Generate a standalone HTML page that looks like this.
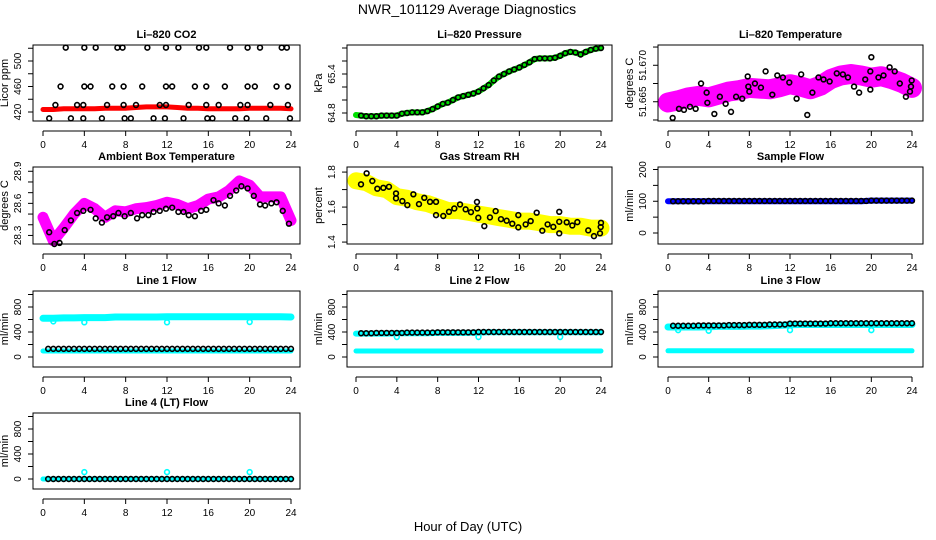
<!DOCTYPE html>
<html><head><meta charset="utf-8"><style>
body{margin:0;background:#fff}
svg{display:block;font-family:"Liberation Sans",Arial,sans-serif}
</style></head><body>
<svg id="c" width="936" height="540" viewBox="0 0 936 540">
<text x="467" y="14" font-size="14" text-anchor="middle">NWR_101129  Average Diagnostics</text>
<text x="468" y="531" font-size="13" text-anchor="middle">Hour of Day (UTC)</text>
</svg>
<script>
const hours=[0,1,2,3,4,5,6,7,8,9,10,11,12,13,14,15,16,17,18,19,20,21,22,23,24];
const xTicks=[0,4,8,12,16,20,24];
// CO2
const co2Band=[424,424,425,425,425,425,426,426,426,427,428,428,428,427,426,426,425,425,425,425,426,426,426,426,425];
const co2PtHours=[2.2,4.0,5.1,7.2,7.7,10.1,11.9,13.1,15.1,15.8,18.1,19.8,21.0,23.1,23.6,1.7,4.0,4.6,6.7,7.8,9.6,11.9,12.5,14.7,15.8,17.6,19.8,20.5,22.6,23.7,1.2,3.3,3.9,6.2,7.8,9.0,11.3,11.9,14.1,15.8,17.0,19.1,19.8,22.0,23.7,0.6,2.7,3.9,5.7,7.9,8.5,10.7,11.8,13.6,15.9,16.4,18.6,19.7,21.6,23.9];
const co2PtVals=[521,521,521,521,521,521,521,521,521,521,521,521,521,521,521,460,460,460,460,460,460,460,460,460,460,460,460,460,460,460,431,431,431,431,431,431,431,431,431,431,431,431,431,431,431,410,410,410,410,410,410,410,410,410,410,410,410,410,410,410];
// Pressure (half-hourly)
const presHours=[0,0.5,1,1.5,2,2.5,3,3.5,4,4.5,5,5.5,6,6.5,7,7.5,8,8.5,9,9.5,10,10.5,11,11.5,12,12.5,13,13.5,14,14.5,15,15.5,16,16.5,17,17.5,18,18.5,19,19.5,20,20.5,21,21.5,22,22.5,23,23.5,24];
const presVals=[64.77,64.76,64.75,64.75,64.75,64.76,64.76,64.76,64.76,64.79,64.80,64.81,64.81,64.81,64.83,64.86,64.90,64.94,64.96,65.00,65.04,65.06,65.08,65.10,65.13,65.18,65.23,65.30,65.36,65.40,65.44,65.47,65.50,65.54,65.58,65.63,65.64,65.64,65.64,65.65,65.68,65.72,65.74,65.73,65.70,65.74,65.77,65.79,65.80];
// Li-820 temperature
const tempBand=[51.6649,51.6652,51.6656,51.6658,51.6656,51.6660,51.6664,51.6666,51.6669,51.6668,51.6667,51.6670,51.6674,51.6671,51.6667,51.6672,51.6681,51.6686,51.6688,51.6686,51.6683,51.6685,51.6681,51.6676,51.6669];
const tempPtHours=[0.46,1.08,1.57,2.16,2.72,3.25,3.8,3.87,4.56,5.1,5.67,6.2,6.7,7.3,7.84,7.9,8.0,8.55,9.14,9.6,10.26,10.75,11.3,11.93,12.65,13.1,13.7,14.2,14.8,15.3,15.9,16.6,17.2,17.7,18.3,18.8,19.4,19.9,19.9,20.0,20.7,21.2,21.8,22.3,22.8,23.4,23.8,23.9,23.97];
const tempPtVals=[51.66278,51.66403,51.66389,51.66431,51.66403,51.66750,51.66625,51.66486,51.66333,51.66569,51.66472,51.66361,51.66569,51.66542,51.66847,51.66708,51.66639,51.66750,51.66694,51.66917,51.66597,51.66861,51.66833,51.66764,51.66542,51.66875,51.66319,51.66625,51.66833,51.66806,51.66778,51.66889,51.66875,51.66833,51.66708,51.66625,51.66806,51.66917,51.66667,51.67111,51.66833,51.66861,51.66972,51.66917,51.66750,51.66569,51.66639,51.66708,51.66792];
// Ambient box temperature
const ambBand=[28.47,28.25,28.37,28.50,28.60,28.55,28.47,28.53,28.52,28.55,28.56,28.58,28.61,28.59,28.55,28.58,28.64,28.66,28.72,28.81,28.77,28.66,28.66,28.66,28.44];
const ambPtHours=[0.6,1.1,1.6,2.1,2.7,3.3,3.9,4.6,5.1,5.7,6.2,6.8,7.3,7.9,8.5,9.1,9.6,10.2,10.7,11.3,11.9,12.5,13.1,13.6,14.1,14.7,15.3,15.8,16.5,17.0,17.6,18.1,18.7,19.2,19.8,20.4,21.0,21.5,22.1,22.6,23.2,23.8];
const ambPtVals=[28.33,28.22,28.23,28.35,28.44,28.51,28.53,28.54,28.46,28.42,28.47,28.48,28.51,28.48,28.51,28.46,28.49,28.49,28.52,28.53,28.55,28.56,28.52,28.52,28.49,28.48,28.53,28.54,28.63,28.60,28.58,28.67,28.72,28.76,28.74,28.67,28.59,28.58,28.60,28.61,28.53,28.41];
// Gas stream RH
const rhBand=[1.75,1.74,1.71,1.70,1.66,1.65,1.63,1.62,1.60,1.58,1.58,1.57,1.56,1.55,1.54,1.53,1.52,1.52,1.51,1.50,1.50,1.49,1.49,1.48,1.48];
const rhPtHours=[0.49,1.04,1.60,2.09,2.68,3.23,3.92,3.92,4.54,5.03,5.62,6.17,6.69,7.25,7.84,7.84,8.55,9.11,9.63,10.19,10.74,11.26,11.85,11.88,11.98,12.57,13.12,13.68,14.20,14.76,15.31,15.90,15.90,16.62,17.11,17.70,18.25,18.77,19.33,19.91,19.91,19.91,20.64,21.19,21.68,22.75,23.31,23.90,23.97,24.0];
const rhPtVals=[1.730,1.793,1.749,1.705,1.710,1.716,1.678,1.650,1.634,1.611,1.673,1.617,1.653,1.630,1.630,1.554,1.549,1.573,1.592,1.615,1.587,1.571,1.629,1.592,1.539,1.491,1.541,1.577,1.531,1.522,1.505,1.554,1.484,1.501,1.520,1.568,1.465,1.501,1.487,1.573,1.450,1.516,1.513,1.495,1.514,1.467,1.434,1.450,1.486,1.510];
// Flows (hourly)
const sampleBand=[100,100,100,100,100,100,100,100,100,100,100,100,100,100,100,100,100,100,100,100,102,102,102,102,102];
const sampleCircles=[100,100,100,100,101,101,101,101,101,101,101,101,101,101,101,101,101,101,101,101,102,102,102,102,102];
const l1Upper=[620,620,625,625,630,630,630,640,640,640,640,640,645,645,645,645,645,645,645,645,645,645,645,645,640];
const l1Lower=[96,96,96,96,96,96,96,96,96,96,96,96,96,96,96,96,96,96,96,96,96,96,96,96,96];
const l1Black=[130,130,130,130,130,130,130,130,130,130,130,130,130,130,130,130,130,130,130,130,130,130,130,130,130];
const l1DipHours=[1,4,12,20];
const l1DipVals=[570,555,555,560];
const l2Upper=[375,375,375,375,380,380,380,380,385,385,385,385,390,395,395,395,395,395,395,395,395,395,395,395,395];
const l2Lower=[96,96,96,96,96,96,96,96,96,96,96,96,96,96,96,96,96,96,96,96,96,96,96,96,96];
const l2Black=[380,380,385,385,385,390,390,390,395,395,395,395,400,400,400,400,400,400,400,400,400,400,400,400,400];
const l2DipHours=[4,12,20];
const l2DipVals=[320,320,320];
const l3Upper=[480,480,480,480,485,490,490,490,495,495,500,505,515,520,520,520,520,520,520,520,520,520,520,520,520];
const l3Lower=[100,100,100,100,100,100,100,100,100,100,100,100,100,100,100,100,100,100,100,100,100,100,100,100,100];
const l3Black=[500,500,500,505,505,505,510,510,515,515,520,520,535,535,535,535,540,540,540,540,540,540,540,540,540];
const l3DipHours=[1,4,12,20];
const l3DipVals=[430,420,430,430];
const l4Band=[0,0,0,0,0,0,0,0,0,0,0,0,0,0,0,0,0,0,0,0,0,0,0,0,0];
const l4Black=[0,0,0,0,0,0,0,0,0,0,0,0,0,0,0,0,0,0,0,0,0,0,0,0,0];
const l4SpikeHours=[4,12,20];
const l4SpikeVals=[110,110,110];

const NS='http://www.w3.org/2000/svg';
const svg=document.getElementById('c');
const cols=[{l:33,r:300,x0:43,x24:291},{l:347,r:612,x0:356,x24:601},{l:658,r:923,x0:668,x24:912}];
const rows=[{t:45,b:121},{t:167,b:244},{t:291,b:367},{t:413,b:489}];
function mk(tag,attrs,parent){const e=document.createElementNS(NS,tag);for(const k in attrs)e.setAttribute(k,attrs[k]);(parent||svg).appendChild(e);return e;}
function panel(c,r,o){
  const C=cols[c],R=rows[r];
  const g=mk('g',{});
  
  
  const xs=h=>C.x0+(C.x24-C.x0)*h/24;
  const ys=v=>R.b-(v-o.ymin)/(o.ymax-o.ymin)*(R.b-R.t);
  const t=mk('text',{x:(C.l+C.r)/2,y:R.t-7,'font-size':11,'font-weight':'bold','text-anchor':'middle'},g);
  t.textContent=o.title;
  
  
  const yl=mk('text',{transform:`translate(${C.l-25},${(R.t+R.b)/2}) rotate(-90)`,'font-size':11,'text-anchor':'middle'},g);
  yl.textContent=o.ylab;
  
  
  o.ticks.forEach(v=>{const y=ys(v);mk('line',{x1:C.l-5,x2:C.l,y1:y,y2:y,stroke:'#000'},g);});
  o.labels.forEach((v,i)=>{const y=ys(v);const tx=mk('text',{transform:`translate(${C.l-12},${y}) rotate(-90)`,'font-size':10,'text-anchor':'middle'},g);tx.textContent=o.labelText[i];
    
    });
  const ay=R.b+10;
  mk('line',{x1:xs(0),x2:xs(24),y1:ay,y2:ay,stroke:'#000'},g);
  xTicks.forEach(h=>{mk('line',{x1:xs(h),x2:xs(h),y1:ay,y2:ay+5,stroke:'#000'},g);
    const tx=mk('text',{x:xs(h),y:ay+17,'font-size':10,'text-anchor':'middle'},g);tx.textContent=h;
    
    });
  const plot=mk('g',{},g);
  
  
  mk('rect',{x:C.l,y:R.t,width:C.r-C.l,height:R.b-R.t,fill:'none',stroke:'#000'},g);
  return {xs,ys,plot};
}
function band(P,hs,vals,color,w,name){
  const pts=hs.map((h,i)=>P.xs(h).toFixed(1)+','+P.ys(vals[i]).toFixed(1)).join(' ');
  const e=mk('polyline',{points:pts,fill:'none',stroke:color,'stroke-width':w,'stroke-linejoin':'round','stroke-linecap':'round'},P.plot);
  
  
}
function pts(P,hs,vals,color,name,r){
  hs.forEach((h,i)=>{const e=mk('circle',{cx:P.xs(h),cy:P.ys(vals[i]),r:r||2.4,fill:'none',stroke:color,'stroke-width':1.6},P.plot);
    
    });
}
function halfHourPts(P,hourly,color,name){
  const hs=[],vs=[];
  for(let k=1;k<=48;k++){const h=k*0.5;hs.push(h);vs.push(hourly[Math.min(24,Math.floor(h))]);}
  pts(P,hs,vs,color,name);
}
const flowTicks=[0,200,400,600,800,1000];
function flowPanel(c,r,name,title){
  return panel(c,r,{name,title,ylab:'ml/min',ymin:-160,ymax:1056,ticks:flowTicks,labels:[0,400,800],labelText:['0','400','800']});
}
let P=panel(0,0,{name:'co2',title:'Li–820 CO2',ylab:'Licor ppm',ymin:405.9,ymax:525.1,ticks:[420,440,460,480,500,520],labels:[420,460,500],labelText:['420','460','500']});
band(P,hours,co2Band,'#f00',5,'co2-average-band');
pts(P,co2PtHours,co2PtVals,'#000','co2-point');

P=panel(1,0,{name:'pressure',title:'Li–820 Pressure',ylab:'kPa',ymin:64.677,ymax:65.846,ticks:[64.8,65.0,65.2,65.4,65.6,65.8],labels:[64.8,65.4],labelText:['64.8','65.4']});
band(P,presHours,presVals,'#00e000',6,'pressure-band');
pts(P,presHours.slice(1),presVals.slice(1),'#000','pressure-point');

P=panel(2,0,{name:'licor-temp',title:'Li–820 Temperature',ylab:'degrees C',ymin:51.66236,ymax:51.67278,ticks:[51.6625,51.665,51.6675,51.67,51.6725],labels:[51.665,51.67],labelText:['51.665','51.670']});
band(P,hours,tempBand,'#ff00ff',20,'licor-temp-cloud');
pts(P,tempPtHours,tempPtVals,'#000','licor-temp-point');

P=panel(0,1,{name:'ambient-temp',title:'Ambient Box Temperature',ylab:'degrees C',ymin:28.22,ymax:28.94,ticks:[28.3,28.4,28.5,28.6,28.7,28.8,28.9],labels:[28.3,28.6,28.9],labelText:['28.3','28.6','28.9']});
band(P,hours,ambBand,'#ff00ff',11,'ambient-temp-band');
pts(P,ambPtHours,ambPtVals,'#000','ambient-temp-point');

P=panel(1,1,{name:'gas-rh',title:'Gas Stream RH',ylab:'percent',ymin:1.389,ymax:1.829,ticks:[1.4,1.5,1.6,1.7,1.8],labels:[1.4,1.6,1.8],labelText:['1.4','1.6','1.8']});
band(P,hours,rhBand,'#ffff00',17,'gas-rh-band');
pts(P,rhPtHours,rhPtVals,'#000','gas-rh-point');

P=panel(2,1,{name:'sample-flow',title:'Sample Flow',ylab:'ml/min',ymin:-34.6,ymax:207.9,ticks:[0,50,100,150,200],labels:[0,100,200],labelText:['0','100','200']});
band(P,hours,sampleBand,'#0000ff',6,'sample-flow-band');
halfHourPts(P,sampleCircles,'#000','sample-flow-point');

P=flowPanel(0,2,'line1-flow','Line 1 Flow');
band(P,hours,l1Upper,'#00ffff',7,'line1-upper-band');
band(P,hours,l1Lower,'#00ffff',5,'line1-lower-band');
pts(P,l1DipHours,l1DipVals,'#00ffff','line1-dip-point');
halfHourPts(P,l1Black,'#000','line1-point');

P=flowPanel(1,2,'line2-flow','Line 2 Flow');
band(P,hours,l2Upper,'#00ffff',6,'line2-upper-band');
band(P,hours,l2Lower,'#00ffff',5,'line2-lower-band');
pts(P,l2DipHours,l2DipVals,'#00ffff','line2-dip-point');
halfHourPts(P,l2Black,'#000','line2-point');

P=flowPanel(2,2,'line3-flow','Line 3 Flow');
band(P,hours,l3Upper,'#00ffff',7,'line3-upper-band');
band(P,hours,l3Lower,'#00ffff',5,'line3-lower-band');
pts(P,l3DipHours,l3DipVals,'#00ffff','line3-dip-point');
halfHourPts(P,l3Black,'#000','line3-point');

P=flowPanel(0,3,'line4-flow','Line 4 (LT) Flow');
band(P,hours,l4Band,'#00ffff',5,'line4-band');
pts(P,l4SpikeHours,l4SpikeVals,'#00ffff','line4-spike-point');
halfHourPts(P,l4Black,'#000','line4-point');
</script>
</body></html>
